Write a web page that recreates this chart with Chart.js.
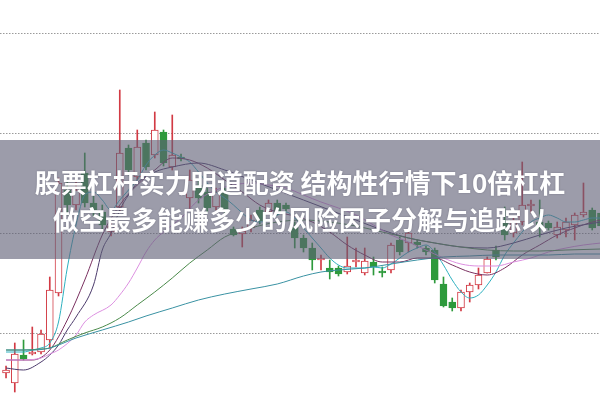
<!DOCTYPE html>
<html><head><meta charset="utf-8">
<script src="https://cdn.jsdelivr.net/npm/chart.js@4"></script>
<style>
html,body{margin:0;padding:0;background:#fff;}
#wrap{position:relative;width:600px;height:400px;overflow:hidden;}
#c{position:absolute;left:0;top:0;}
#banner{position:absolute;left:0;top:140px;width:600px;height:119px;background:rgba(95,95,118,0.62);}
.t{position:absolute;left:0;width:600px;text-align:center;color:#fff;font-family:"Noto Sans CJK SC","Noto Sans CJK JP",sans-serif;font-weight:bold;font-size:26px;line-height:30px;white-space:nowrap;text-shadow:0 0 2px rgba(40,40,60,0.35);}
</style></head>
<body>
<div id="wrap">
<canvas id="c" width="600" height="400"></canvas>
<div id="banner">
<div class="t" style="top:27px">股票杠杆实力明道配资 结构性行情下10倍杠杠</div>
<div class="t" style="top:64px">做空最多能赚多少的风险因子分解与追踪以</div>
</div>
</div>
<script>
// candle data (price units)
const opens  = [9.60,9.50,9.78,9.79,9.81,9.93,10.40,11.43,11.28,11.60,11.30,11.21,11.01,11.26,11.85,11.56,11.90,11.78,12.01,11.66,11.76,11.35,11.48,11.41,11.26,11.41,11.04,10.99,11.05,11.23,11.21,11.30,11.28,11.06,10.95,10.85,10.73,10.65,10.65,10.61,10.71,10.60,10.71,10.62,10.63,10.93,10.90,10.91,10.85,10.83,10.49,10.31,10.25,10.41,10.48,10.60,10.83,11.13,11.00,11.11,11.27,11.11,11.10,10.98,11.03,11.08,11.18,11.23,11.20];
const highs  = [9.67,9.90,9.93,10.06,10.03,10.56,11.55,11.53,11.58,11.80,11.37,11.28,11.11,12.43,11.88,12.03,11.93,12.21,12.03,12.18,11.79,11.63,11.53,11.45,11.45,11.45,11.06,11.06,11.18,11.26,11.33,11.33,11.30,11.11,10.98,10.90,10.78,10.73,10.67,10.96,10.85,10.85,10.76,10.66,10.90,10.96,11.02,10.93,10.87,10.85,10.56,10.35,10.43,10.50,10.65,10.76,10.87,11.26,11.16,11.71,11.33,11.33,11.12,11.11,11.15,11.20,11.50,11.25,11.23];
const lows   = [9.55,9.41,9.73,9.78,9.79,9.85,10.37,11.18,11.23,11.26,11.17,11.03,10.97,11.21,11.58,11.53,11.63,11.75,11.67,11.63,11.72,11.23,11.30,11.21,11.23,11.20,10.97,10.86,11.01,11.09,11.19,11.18,11.22,10.85,10.81,10.63,10.63,10.54,10.57,10.59,10.66,10.58,10.58,10.56,10.60,10.78,10.81,10.85,10.78,10.50,10.26,10.22,10.22,10.31,10.44,10.60,10.73,10.93,10.96,11.08,11.20,10.96,11.03,10.95,10.96,10.93,11.16,11.03,11.03];
const closes = [9.63,9.79,9.74,9.81,9.99,10.43,11.50,11.28,11.43,11.30,11.23,11.08,11.07,11.80,11.63,11.86,11.66,12.03,11.70,11.78,11.74,11.53,11.35,11.25,11.41,11.23,10.98,11.02,11.13,11.12,11.30,11.21,11.24,10.95,10.85,10.73,10.75,10.61,10.59,10.67,10.73,10.72,10.66,10.60,10.88,10.81,11.00,10.88,10.81,10.53,10.27,10.25,10.41,10.48,10.58,10.74,10.76,10.98,11.13,11.28,11.29,11.06,11.05,11.06,11.11,11.18,11.21,11.05,11.07];

// moving-average readings: [candle index, price]
const ma5 = [[0,9.81],[1,9.81],[2,9.81],[3,9.83],[4,9.85],[5,9.90],[6,10.11],[7,10.65],[8,11.08],[9,11.38],[10,11.41],[11,11.33],[12,11.23],[13,11.33],[14,11.43],[15,11.53],[16,11.68],[17,11.78],[18,11.83],[19,11.80],[20,11.76],[21,11.71],[22,11.61],[23,11.50],[24,11.41],[25,11.35],[26,11.28],[27,11.20],[28,11.13],[29,11.11],[30,11.13],[31,11.18],[32,11.21],[33,11.15],[34,11.05],[35,10.95],[36,10.85],[37,10.75],[38,10.68],[39,10.65],[40,10.65],[41,10.65],[42,10.66],[43,10.65],[44,10.69],[45,10.75],[46,10.81],[47,10.85],[48,10.88],[49,10.81],[50,10.68],[51,10.53],[52,10.41],[53,10.35],[54,10.38],[55,10.48],[56,10.61],[57,10.78],[58,10.90],[59,11.01],[60,11.11],[61,11.15],[62,11.18],[63,11.15],[64,11.11],[65,11.11],[66,11.13],[67,11.15],[68,11.15]];
const ma10 = [[0,9.73],[3,9.73],[5,9.83],[7,10.13],[9,10.53],[11,10.98],[13,11.28],[15,11.48],[17,11.63],[19,11.75],[21,11.73],[23,11.65],[25,11.53],[27,11.41],[29,11.28],[31,11.21],[33,11.17],[35,11.11],[37,11.01],[39,10.88],[41,10.78],[43,10.71],[45,10.71],[47,10.75],[49,10.75],[51,10.68],[53,10.61],[55,10.58],[57,10.65],[59,10.78],[61,10.88],[63,10.98],[65,11.05],[67,11.11],[68,11.13]];
const ma20 = [[0,9.65],[2,9.63],[4,9.71],[5,9.78],[6,9.88],[7,10.03],[8,10.16],[10,10.48],[11,10.83],[12,11.00],[13,11.23],[14,11.38],[15,11.50],[17,11.61],[19,11.66],[22,11.70],[25,11.63],[28,11.53],[31,11.43],[34,11.33],[37,11.23],[40,11.13],[43,11.03],[46,10.95],[49,10.90],[52,10.86],[55,10.85],[58,10.90],[61,10.98],[64,11.05],[68,11.11]];
const ma30 = [[0,9.73],[2,9.73],[4,9.75],[5,9.79],[6,9.83],[8,9.98],[9,10.11],[10,10.18],[12,10.28],[13,10.38],[14,10.50],[15,10.65],[16,10.81],[17,10.93],[18,11.01],[19,11.08],[20,11.15],[22,11.33],[24,11.43],[26,11.48],[28,11.50],[30,11.48],[32,11.45],[34,11.38],[36,11.31],[38,11.25],[40,11.18],[42,11.08],[44,10.98],[46,10.91],[48,10.83],[50,10.75],[52,10.69],[54,10.67],[56,10.67],[58,10.71],[60,10.75],[62,10.81],[64,10.85],[66,10.88],[68,10.90]];
const ma60 = [[0,9.83],[2,9.83],[4,9.84],[5,9.85],[7,9.93],[9,10.00],[11,10.06],[13,10.15],[15,10.28],[17,10.41],[19,10.55],[21,10.70],[23,10.83],[25,10.96],[28,11.05],[31,11.11],[34,11.13],[37,11.11],[40,11.07],[43,11.01],[46,10.95],[49,10.90],[52,10.86],[55,10.83],[58,10.82],[61,10.82],[64,10.83],[68,10.84]];
const ma120 = [[0,9.83],[3,9.83],[5,9.85],[8,9.95],[11,10.03],[14,10.11],[16,10.17],[19,10.25],[22,10.33],[25,10.39],[28,10.44],[31,10.49],[34,10.57],[36,10.61],[38,10.63],[41,10.65],[44,10.69],[47,10.73],[50,10.76],[53,10.77],[56,10.78],[59,10.78],[62,10.78],[65,10.79],[68,10.79]];
const gridLevels = [10, 11, 12, 13];

const RED = '#d23a44', GREEN = '#2e9a3c';
const up = closes.map((c, i) => c >= opens[i]);
const col = up.map(u => u ? RED : GREEN);

const lineDs = (pts, color) => ({
  type: 'line',
  data: pts.map(p => ({x: p[0], y: p[1]})),
  borderColor: color, borderWidth: 1, pointRadius: 0,
  cubicInterpolationMode: 'monotone', fill: false, order: 0
});

new Chart(document.getElementById('c'), {
  type: 'bar',
  data: {
    datasets: [
      lineDs(ma120, '#3a92a3'),
      lineDs(ma60, '#4a8a4a'),
      lineDs(ma30, '#dc8fe0'),
      lineDs(ma20, '#4b3a6b'),
      lineDs(ma10, '#7a3060'),
      lineDs(ma5, '#2eb0bf'),
      {
        type: 'bar',
        data: opens.map((o, i) => ({x: i, y: [o, closes[i]]})),
        backgroundColor: up.map(u => u ? '#ffffff' : GREEN),
        borderColor: col, borderWidth: 1, borderSkipped: false,
        barThickness: 7, grouped: false, order: 1
      },
      {
        type: 'bar',
        data: lows.map((l, i) => ({x: i, y: [l, highs[i]]})),
        backgroundColor: col, borderWidth: 0,
        barThickness: 1, grouped: false, order: 2
      }
    ]
  },
  options: {
    responsive: false, animation: false, devicePixelRatio: 1,
    layout: {padding: 0},
    plugins: {legend: {display: false}, tooltip: {enabled: false}},
    scales: {
      x: {type: 'linear', min: -0.69, max: 67.89, offset: false, display: false, grid: {display: false, offset: false}},
      y: {
        type: 'linear', min: 9.33, max: 13.33,
        ticks: {display: false},
        afterBuildTicks: s => { s.ticks = gridLevels.map(v => ({value: v})); },
        afterFit: s => { s.width = 0; },
        grid: {color: '#9a9a9a', lineWidth: 1, drawTicks: false},
        border: {display: false, dash: [1.5, 1.5]}
      }
    }
  }
});
</script>
</body></html>
